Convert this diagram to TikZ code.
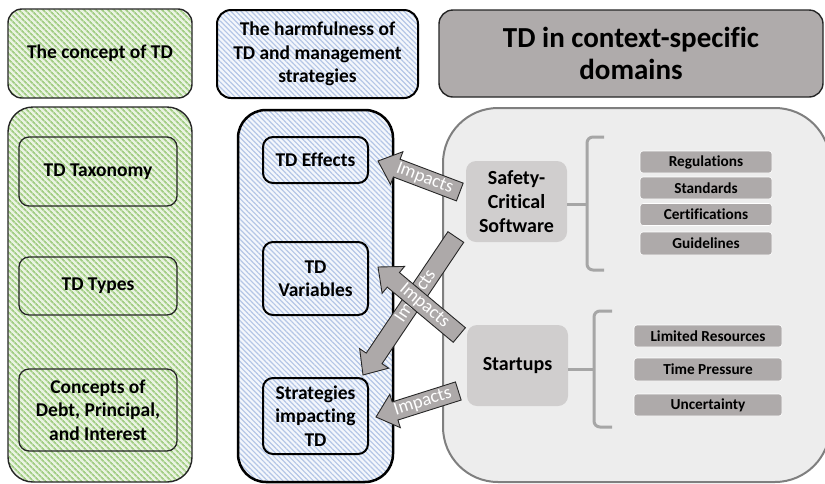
\documentclass[tikz,border=0pt]{standalone}
\usepackage{fontspec}
\setmainfont{Carlito}[Ligatures=NoCommon]
\usetikzlibrary{patterns.meta,calc}
\definecolor{gbg}{HTML}{EAF3E2}
\definecolor{gline}{HTML}{A2CD85}
\definecolor{bbg}{HTML}{F4F7FC}
\definecolor{bline}{HTML}{B4C6E6}
\definecolor{headgray}{HTML}{AFABAB}
\definecolor{panelgray}{HTML}{EDEDED}
\definecolor{panelborder}{HTML}{7F7F7F}
\definecolor{boxgray}{HTML}{D0CECE}
\definecolor{itemgray}{HTML}{AEAAAA}
\definecolor{bracegray}{HTML}{A6A6A6}
\definecolor{arrowgray}{HTML}{ADA9A9}
\definecolor{edgedark}{HTML}{262626}
\newcommand\blockarrow[3]{%
  \fill[arrowgray,draw=edgedark,line width=0.9pt,line join=miter]
    ($(#1)!9.5pt!90:(#2)$) --
    ($($(#2)!20pt!(#1)$)!9.5pt!-90:(#1)$) --
    ($($(#2)!20pt!(#1)$)!17.5pt!-90:(#1)$) -- (#2) --
    ($($(#2)!20pt!(#1)$)!17.5pt!90:(#1)$) --
    ($($(#2)!20pt!(#1)$)!9.5pt!90:(#1)$) --
    ($(#1)!9.5pt!-90:(#2)$) -- cycle;
  \path let \p1=($(#1)-(#2)$), \n1={atan2(\y1,\x1)} in
    node[impacts,rotate=\n1] (#3) at ($(#2)!0.57!(#1)$) {Impacts};
}
\begin{document}
\begin{tikzpicture}[x=1pt,y=-1pt,
  greenhatch/.style={preaction={fill=gbg},preaction={pattern={Lines[angle=-45,distance=4pt,line width=1.8pt]},pattern color=gline}},
  bluehatch/.style={preaction={fill=bbg},preaction={pattern={Lines[angle=-45,distance=3.6pt,line width=1.2pt]},pattern color=bline}},
  box/.style={rectangle,inner sep=0pt,align=center,font=\bfseries\fontsize{19.5}{23.5}\selectfont,text=black},
  topbox/.style={box,draw=edgedark,line width=1.4pt,rounded corners=14pt},
  innerg/.style={box,draw=edgedark,line width=1.3pt,rounded corners=10pt,minimum width=158pt},
  innerb/.style={box,draw=black,line width=2pt,rounded corners=10pt,minimum width=105pt},
  domainbox/.style={box,fill=boxgray,rounded corners=10pt,minimum width=101pt,minimum height=81pt,font=\bfseries\fontsize{20}{24}\selectfont},
  itembox/.style={box,fill=itemgray,draw=white,line width=0.6pt,rounded corners=3pt,minimum height=22pt,font=\bfseries\fontsize{15.3}{17}\selectfont},
  bracket/.style={draw=bracegray,line width=3pt,rounded corners=6pt},
  linkline/.style={draw=bracegray,line width=3pt},
  impacts/.style={inner sep=0pt,text=white,font=\fontsize{18.5}{19}\selectfont}]
\useasboundingbox (0,0) rectangle (825,483);
\fill[white] (0,0) rectangle (825,483);
% header boxes
\node[topbox,greenhatch,minimum width=184pt,minimum height=89pt] (h1) at (100,53.5) {The concept of TD};
\node[topbox,bluehatch,draw=black,line width=2pt,minimum width=201pt,minimum height=88pt] (h2) at (317.5,54) {The harmfulness of\\TD and management\\strategies};
\node[topbox,fill=headgray,minimum width=384pt,minimum height=87pt,font=\bfseries\fontsize{29}{32}\selectfont] (h3) at (631,53.5) {TD in context-specific\\domains};
% panels
\node[box,greenhatch,draw=edgedark,line width=1.4pt,rounded corners=25pt,minimum width=184pt,minimum height=375pt] (gp) at (100,294.5) {};
\node[box,bluehatch,draw=black,line width=2.5pt,rounded corners=28pt,minimum width=155pt,minimum height=372pt] (bp) at (315.5,296) {};
\node[box,fill=panelgray,draw=panelborder,line width=2pt,rounded corners=55pt,minimum width=387pt,minimum height=374pt] (rp) at (636.5,295) {};
% green inner
\node[innerg,minimum height=69pt] (tax) at (98,171.5) {TD Taxonomy};
\node[innerg,minimum height=58pt] (typ) at (98,286) {TD Types};
\node[innerg,minimum height=82pt] (con) at (98,410) {Concepts of\\Debt, Principal,\\and Interest};
% blue inner
\node[innerb,minimum height=46pt] (eff) at (315.5,160) {TD Effects};
\node[innerb,minimum height=73pt] (var) at (315.5,278.5) {TD\\Variables};
\node[innerb,minimum height=76pt] (str) at (315.5,416) {Strategies\\impacting\\TD};
% domains
\node[domainbox] (scs) at (516.5,201.5) {Safety-\\Critical\\Software};
\node[domainbox] (sta) at (517.5,365.5) {Startups};
% items
\node[itembox,minimum width=132pt] (reg) at (706,162) {Regulations};
\node[itembox,minimum width=132pt] (sd) at (706,188) {Standards};
\node[itembox,minimum width=132pt] (cer) at (706,214.5) {Certifications};
\node[itembox,minimum width=132pt,minimum height=23pt] (gui) at (706,243.5) {Guidelines};
\node[itembox,minimum width=148pt] (lim) at (708,336) {Limited Resources};
\node[itembox,minimum width=148pt,minimum height=23pt] (tim) at (708,369.5) {Time Pressure};
\node[itembox,minimum width=148pt] (unc) at (708,405) {Uncertainty};
% braces
\coordinate (b1) at (587,204);
\coordinate (b2) at (594,369);
\draw[bracket] (604,137) -- (587,137) -- (587,270) -- (604,270);
\draw[linkline] (scs.east |- b1) -- (b1);
\draw[bracket] (612,311) -- (594,311) -- (594,427) -- (612,427);
\draw[linkline] (sta.east |- b2) -- (b2);
% arrows
\coordinate (t1) at ($(scs.west)+(-6,-9.5)$);
\coordinate (p1) at ($(eff.east)+(9,1)$);
\coordinate (t3) at ($(scs.west)+(-10,35.5)$);
\coordinate (p3) at ($(str.north east)+(-6,-2)$);
\coordinate (t2) at ($(sta.west)+(-7.5,-30.5)$);
\coordinate (p2) at ($(var.east)+(9,-11.5)$);
\coordinate (t4) at ($(sta.west)+(-8.5,25.5)$);
\coordinate (p4) at ($(str.east)+(7,1)$);
\blockarrow{t1}{p1}{l1}
\blockarrow{t3}{p3}{l3}
\blockarrow{t2}{p2}{l2}
\blockarrow{t4}{p4}{l4}
\end{tikzpicture}
\end{document}
